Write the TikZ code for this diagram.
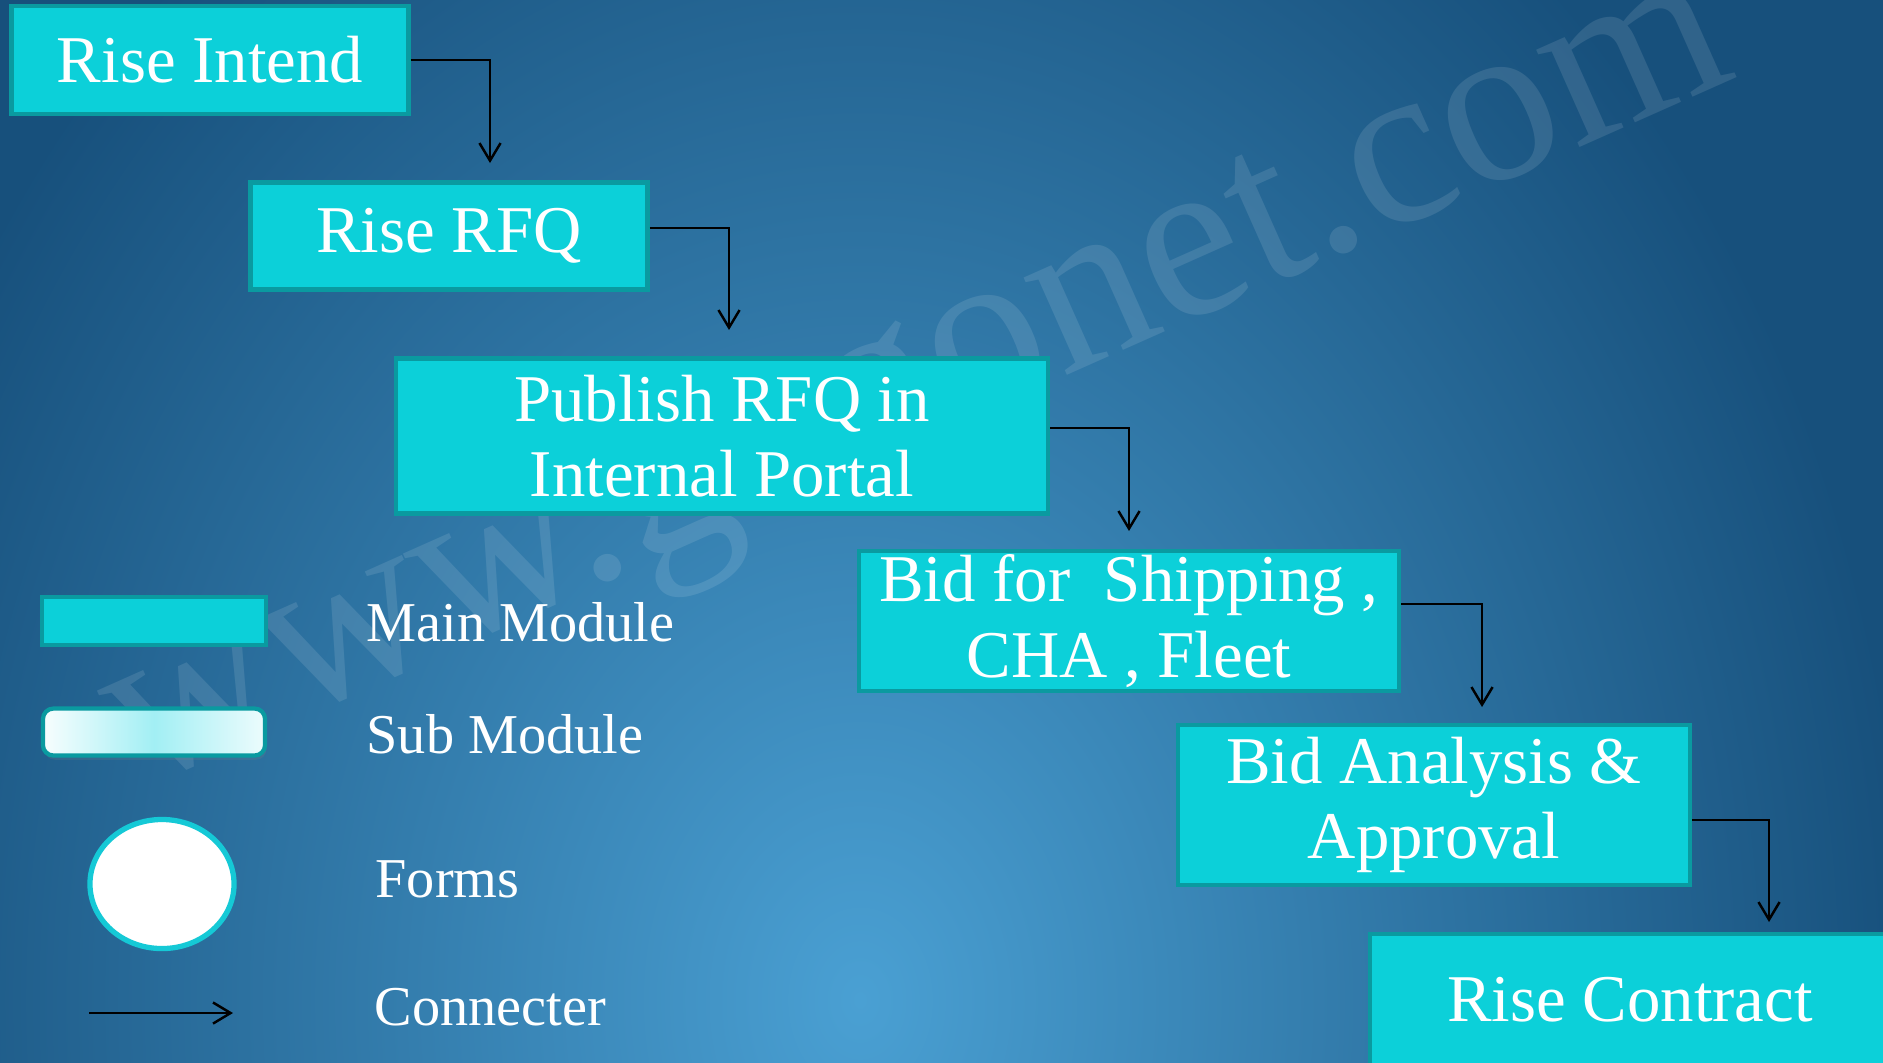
\documentclass[tikz,border=0pt]{standalone}
\usepackage{fontspec}
\setmainfont{Liberation Serif}
\usetikzlibrary{arrows.meta,shapes.geometric,shadows}
\definecolor{bgdark}{HTML}{17507C}
\definecolor{bglight}{HTML}{4AA0D3}
\definecolor{boxfill}{HTML}{0CD0D9}
\definecolor{boxline}{HTML}{0A9AA0}
\definecolor{subfill}{HTML}{A2EFF4}
\definecolor{formline}{HTML}{15C9D6}
\tikzset{
  mainbox/.style={rectangle, draw=boxline, line width=1.3pt, fill=boxfill,
    text=white, align=center, inner sep=0pt,
    font=\fontsize{19}{21.5}\selectfont},
  subbox/.style={rectangle, rounded corners=3pt, draw=boxline, line width=1.2pt,
    left color=white!92!subfill, right color=white!80!subfill, middle color=subfill,
    drop shadow={opacity=0.2, shadow xshift=0.4pt, shadow yshift=-1.2pt}},
  formbox/.style={ellipse, draw=formline, line width=1.5pt, fill=white},
  conn/.style={-{Straight Barb[length=5pt,width=6pt]}, line width=0.7pt, black},
  legtext/.style={anchor=base west, inner sep=0pt, text=white,
    font=\fontsize{16}{18}\selectfont}
}
\begin{document}
\begin{tikzpicture}[x=0.01cm,y=-0.01cm]
\useasboundingbox (0,0) rectangle (1883,1062);
\begin{scope}                       % start of clip scope
\clip (0,0) rectangle (1883,1062);
\fill[bgdark] (0,0) rectangle (1883,1062);
\shade[inner color=bglight, outer color=bgdark] (860,1000) ellipse [x radius=10.5cm, y radius=13.5cm];
\node[anchor=base, rotate=24, text=white, opacity=0.11,
  font=\fontsize{66}{66}\selectfont] (mark) at (940,432) {www.gogonet.com};
% flow of main modules
\node[mainbox, minimum width=3.97cm, minimum height=1.08cm] (intend) at (210,60) {Rise Intend};
\node[mainbox, minimum width=3.97cm, minimum height=1.07cm] (rfq) at (449,236) {Rise RFQ};
\node[mainbox, minimum width=6.52cm, minimum height=1.55cm] (publish) at (722,436) {Publish RFQ in\\Internal Portal};
\node[mainbox, minimum width=5.40cm, minimum height=1.40cm] (bidship) at (1129,621) {Bid for\ \ Shipping ,\\CHA , Fleet};
\node[mainbox, minimum width=5.12cm, minimum height=1.60cm] (analysis) at (1434,805) {Bid Analysis \&\\Approval};
\node[mainbox, minimum width=5.20cm, minimum height=1.32cm] (contract) at (1630,1000) {Rise Contract};
\end{scope}                         % end of clip scope
% connectors
\coordinate (t1) at (490,163);
\coordinate (t2) at (729,330);
\coordinate (t3) at (1129,531);
\coordinate (t4) at (1482,707);
\coordinate (t5) at (1769,922);
\draw[conn] (intend.east) -| (t1);
\draw[conn] ([yshift=0.08cm]rfq.east) -| (t2);
\draw[conn] ([yshift=0.08cm]publish.east) -| (t3);
\draw[conn] ([yshift=0.17cm]bidship.east) -| (t4);
\draw[conn] ([yshift=-0.15cm]analysis.east) -| (t5);
% legend
\node[mainbox, minimum width=2.24cm, minimum height=0.48cm] (mainkey) at (154,621) {};
\node[subbox, minimum width=2.22cm, minimum height=0.47cm] (subkey) at (154,732) {};
\node[formbox, minimum width=1.44cm, minimum height=1.29cm] (formkey) at (162,884) {};
\coordinate (c1) at (89,1013);
\coordinate (c2) at (233,1013);
\draw[conn] (c1) -- (c2);
\node[legtext] (mainlbl) at (366,641) {Main Module};
\node[legtext] (sublbl) at (366,753) {Sub Module};
\node[legtext] (formlbl) at (375,897) {Forms};
\node[legtext] (connlbl) at (374,1025) {Connecter};
\end{tikzpicture}
\end{document}
